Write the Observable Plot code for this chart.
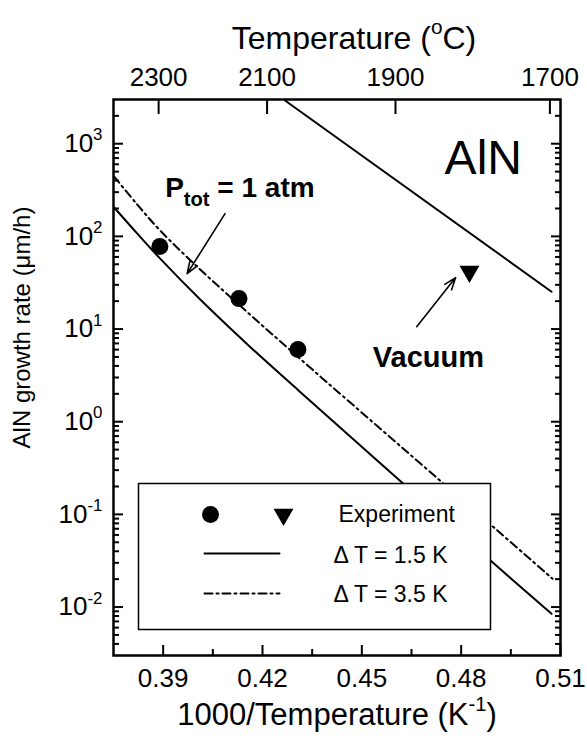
<!DOCTYPE html>
<html><head><meta charset="utf-8">
<script src="https://cdn.jsdelivr.net/npm/d3@7"></script>
<script src="https://cdn.jsdelivr.net/npm/@observablehq/plot@0.6"></script>
<style>
html,body{margin:0;padding:0;background:#fff;}
#chart svg{display:block;}
</style></head><body><div id="chart"></div>
<script>
// ---- data ----
const invT15 = [0.3752, 0.3822, 0.3891, 0.4012, 0.4162, 0.4313, 0.4554, 0.4886, 0.5073];
const rate15 = [205, 107, 57.5, 20.8, 6.45, 2.11, 0.361, 0.0323, 0.00845];
const invT35 = [0.3752, 0.3822, 0.3891, 0.4012, 0.4132, 0.4313, 0.4636, 0.4907, 0.5076];
const rate35 = [442, 220, 115.5, 43.8, 17.9, 4.79, 0.474, 0.0682, 0.0202];
const invTVac = [0.4268, 0.5073];
const rateVac = [2930, 25.3];
const expInvT = [0.389, 0.4129, 0.4307];
const expRate = [77.6, 21.3, 6.0];
const vacExpInvT = [0.4825];
const vacExpRate = [41.7];
const xTicks = [0.39, 0.42, 0.45, 0.48, 0.51];
const xMinorTicks = [0.405, 0.435, 0.465, 0.495];
const yTicks = [0.01, 0.1, 1, 10, 100, 1000];
const yMinorTicks = [];
for (let e = -3; e <= 3; e++) for (let m = 2; m <= 9; m++) { const v = m * Math.pow(10, e); if (v > 0.003 && v < 3000) yMinorTicks.push(v); }
const tempTicksC = [2300, 2100, 1900, 1700];
const plainNotes = [{x: 0.4750, y: 477, text: "AlN"}];
const boldNotes = [
  {x: 0.3906, y: 269, text: "P_{tot} = 1 atm", size: 28},
  {x: 0.4533, y: 3.93, text: "Vacuum", size: 29}
];
const arrows = [
  {x1: 0.40869, y1: 176, x2: 0.39724, y2: 39.6},
  {x1: 0.46657, y1: 10.6, x2: 0.47833, y2: 35.9}
];
const legendLabels = ["Experiment", "\u0394 T = 1.5 K", "\u0394 T = 3.5 K"];

// ---- build ----
const d15 = invT15.map((x, i) => ({x, y: rate15[i]}));
const d35 = invT35.map((x, i) => ({x, y: rate35[i]}));
const dVac = invTVac.map((x, i) => ({x, y: rateVac[i]}));
const dExp = expInvT.map((x, i) => ({x, y: expRate[i]}));
const dVacExp = vacExpInvT.map((x, i) => ({x, y: vacExpRate[i]}));
const font = 'Arial, "Liberation Sans", Helvetica, sans-serif';
const lineShape = {draw(ctx, l) { ctx.moveTo(0, 0); ctx.lineTo(0, -l); }};
const dashDot = "8,4,2,4";

const chart = Plot.plot({
  width: 587, height: 738,
  marginLeft: 113, marginRight: 27, marginTop: 99, marginBottom: 83,
  style: {fontFamily: font, fontSize: "26px", color: "black", background: "white", overflow: "visible"},
  x: {domain: [0.375, 0.51], axis: null},
  y: {type: "log", domain: [0.003, 3000], axis: null},
  marks: [
    Plot.line(d15, {x: "x", y: "y", stroke: "black", strokeWidth: 2, curve: "catmull-rom", clip: true}),
    Plot.line(d35, {x: "x", y: "y", stroke: "black", strokeWidth: 2, strokeDasharray: dashDot, curve: "catmull-rom", clip: true}),
    Plot.line(dVac, {x: "x", y: "y", stroke: "black", strokeWidth: 2, clip: true}),
    Plot.dot(dExp, {x: "x", y: "y", r: 8.5, fill: "black", stroke: "none"}),
    Plot.dot(dVacExp, {x: "x", y: "y", r: 7.4, symbol: "triangle", rotate: 180, fill: "black", stroke: "none"}),
    Plot.arrow(arrows, {x1: "x1", y1: "y1", x2: "x2", y2: "y2", stroke: "black", strokeWidth: 1.6, headLength: 12, headAngle: 40}),
    Plot.text(plainNotes, {x: "x", y: "y", text: "text", fontSize: 48, textAnchor: "start", lineAnchor: "bottom", fill: "black"}),
    Plot.text(boldNotes.slice(0, 1), {x: "x", y: "y", text: "text", fontSize: 28, fontWeight: "bold", textAnchor: "start", lineAnchor: "bottom", fill: "black"}),
    Plot.text(boldNotes.slice(1), {x: "x", y: "y", text: "text", fontSize: 29, fontWeight: "bold", textAnchor: "start", lineAnchor: "bottom", fill: "black"}),
    // legend
    Plot.frame({fill: "white", stroke: "black", strokeWidth: 1.5, insetLeft: 25, insetRight: 70, insetTop: 384, insetBottom: 26}),
    Plot.dot([0], {frameAnchor: "bottom-left", dx: 97, dy: -141, r: 8.5, fill: "black", stroke: "none"}),
    Plot.dot([0], {frameAnchor: "bottom-left", dx: 170, dy: -141, r: 7.4, symbol: "triangle", rotate: 180, fill: "black", stroke: "none"}),
    Plot.vector([0], {frameAnchor: "bottom-left", dx: 91, dy: -102, length: 75, rotate: 90, anchor: "start", shape: lineShape, stroke: "black", strokeWidth: 2}),
    Plot.vector([0], {frameAnchor: "bottom-left", dx: 91, dy: -62, length: 75, rotate: 90, anchor: "start", shape: lineShape, stroke: "black", strokeWidth: 2, strokeDasharray: dashDot}),
    Plot.text([legendLabels[0]], {frameAnchor: "bottom-left", dx: 225, dy: -141, textAnchor: "start", lineAnchor: "middle", fontSize: 23}),
    Plot.text([legendLabels[1]], {frameAnchor: "bottom-left", dx: 220, dy: -100, textAnchor: "start", lineAnchor: "middle", fontSize: 23}),
    Plot.text([legendLabels[2]], {frameAnchor: "bottom-left", dx: 220, dy: -61, textAnchor: "start", lineAnchor: "middle", fontSize: 23}),
    // axes
    Plot.axisX({anchor: "bottom", ticks: xTicks, tickSize: -10, tickPadding: 23, tickFormat: d3.format(".2f"), fontSize: 26, strokeWidth: 2, label: null}),
    Plot.axisX({anchor: "bottom", ticks: xMinorTicks, tickSize: -6, tickFormat: () => "", strokeWidth: 2, label: null}),
    Plot.axisX({anchor: "top", ticks: tempTicksC.map(c => 1000 / (c + 273.15)), tickSize: -14, tickPadding: 28, tickFormat: d => String(Math.round(1000 / d - 273.15)), fontSize: 26, strokeWidth: 2, label: null}),
    Plot.axisY({anchor: "left", ticks: yTicks, tickSize: -10, tickPadding: 21, tickFormat: d => "10^{" + Math.round(Math.log10(d)) + "}", fontSize: 26, strokeWidth: 2, label: null}),
    Plot.axisY({anchor: "left", ticks: yMinorTicks, tickSize: -6, tickFormat: () => "", strokeWidth: 2, label: null}),
    Plot.axisY({anchor: "right", ticks: yTicks, tickSize: -10, tickFormat: () => "", strokeWidth: 2, label: null}),
    Plot.axisY({anchor: "right", ticks: yMinorTicks, tickSize: -6, tickFormat: () => "", strokeWidth: 2, label: null}),
    Plot.frame({stroke: "black", strokeWidth: 2.5}),
    // titles
    Plot.text(["Temperature (^{o}C)"], {frameAnchor: "top", dx: 17, dy: -61, textAnchor: "middle", lineAnchor: "middle", fontSize: 32}),
    Plot.text(["1000/Temperature (K^{-1})"], {frameAnchor: "bottom", dx: 0, dy: 60, textAnchor: "middle", lineAnchor: "middle", fontSize: 31}),
    Plot.text(["AlN growth rate (\u03bcm/h)"], {frameAnchor: "left", rotate: -90, dx: -91, dy: -50, textAnchor: "middle", lineAnchor: "middle", fontSize: 24})
  ]
});

// rich text: ^{..} superscript, _{..} subscript
function richify(svg) {
  d3.select(svg).selectAll("text").each(function () {
    const t = this.textContent;
    if (!/[\^_]\{/.test(t)) return;
    const parts = [];
    const re = /([\^_])\{([^}]*)\}/g;
    let last = 0, m;
    while ((m = re.exec(t))) {
      if (m.index > last) parts.push({s: t.slice(last, m.index), mode: 0});
      parts.push({s: m[2], mode: m[1] === "^" ? 1 : -1});
      last = re.lastIndex;
    }
    if (last < t.length) parts.push({s: t.slice(last), mode: 0});
    this.textContent = "";
    let shift = 0;
    for (const p of parts) {
      const ts = document.createElementNS("http://www.w3.org/2000/svg", "tspan");
      const scale = p.mode === 1 ? 0.65 : p.mode === -1 ? 0.72 : 1;
      const target = p.mode === 1 ? 0.45 : p.mode === -1 ? -0.35 : 0;
      const d = shift - target;
      if (p.mode) ts.setAttribute("font-size", (scale * 100) + "%");
      if (d) ts.setAttribute("dy", (d / scale).toFixed(3) + "em");
      ts.textContent = p.s;
      this.appendChild(ts);
      shift = target;
    }
  });
}
richify(chart);
document.getElementById("chart").appendChild(chart);
</script>
</body></html>
